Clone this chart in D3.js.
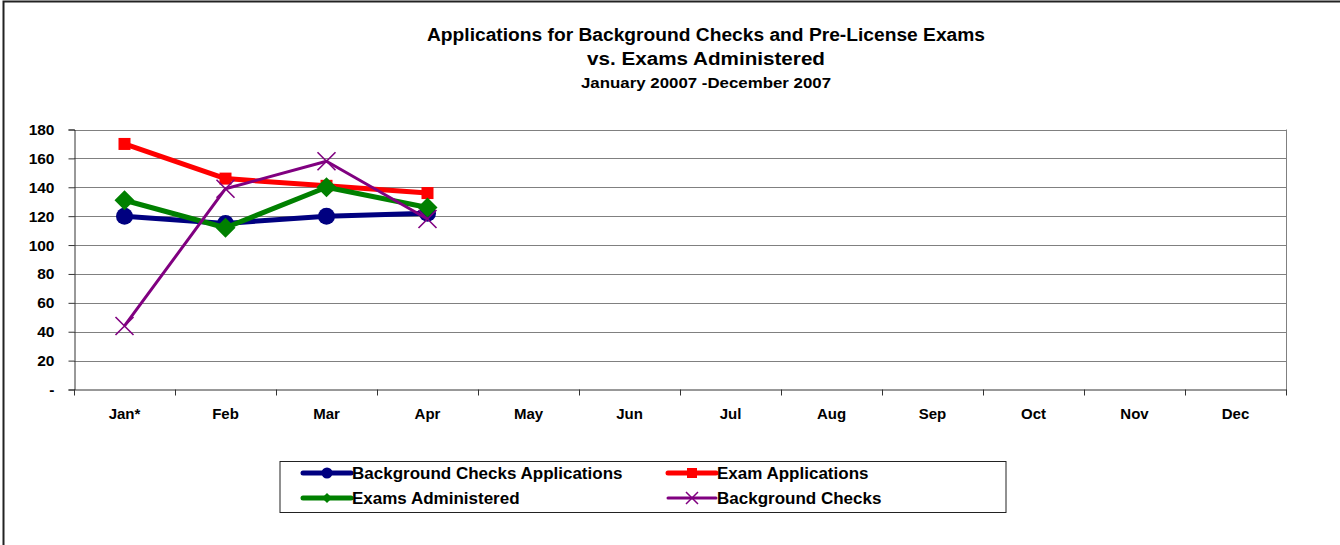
<!DOCTYPE html>
<html>
<head>
<meta charset="utf-8">
<script src="https://cdn.jsdelivr.net/npm/d3@7"></script>
<style>
  html, body { margin: 0; padding: 0; background: #fff; }
  svg { display: block; font-family: "Liberation Sans", Arial, sans-serif; }
</style>
</head>
<body>
<svg id="chart" width="1340" height="545"></svg>
<script>
// Monthly counts, January–December 2007 (only Jan–Apr reported so far)
const months = ["Jan*", "Feb", "Mar", "Apr", "May", "Jun", "Jul", "Aug", "Sep", "Oct", "Nov", "Dec"];
const bgCheckApplications = [120, 115, 120, 122];
const examApplications = [170, 146, 141, 136];
const examsAdministered = [131, 112, 140, 126];
const bgChecks = [44, 139, 158, 118];
const yTicks = [0, 20, 40, 60, 80, 100, 120, 140, 160, 180];

const series = [
  { name: "Background Checks Applications", values: bgCheckApplications, color: "#000080", width: 5, marker: "circle" },
  { name: "Exam Applications", values: examApplications, color: "#FF0000", width: 5, marker: "square" },
  { name: "Exams Administered", values: examsAdministered, color: "#008000", width: 5, marker: "diamond" },
  { name: "Background Checks", values: bgChecks, color: "#800080", width: 3, marker: "x" }
];

const svg = d3.select("#chart");
const plot = { left: 74, right: 1286, top: 129.5, bottom: 389.5 };

// Outer chart frame
svg.append("rect").attr("x", 3.5).attr("y", 1.5).attr("width", 1400).attr("height", 600)
  .attr("fill", "none").attr("stroke", "#222").attr("stroke-width", 2);

// Titles
const titleX = 706;
svg.append("text").attr("x", titleX).attr("y", 41).attr("text-anchor", "middle")
  .attr("font-size", 17.5).attr("font-weight", "bold")
  .attr("textLength", 558).attr("lengthAdjust", "spacingAndGlyphs")
  .text("Applications for Background Checks and Pre-License Exams");
svg.append("text").attr("x", titleX).attr("y", 65).attr("text-anchor", "middle")
  .attr("font-size", 17.5).attr("font-weight", "bold")
  .attr("textLength", 238).attr("lengthAdjust", "spacingAndGlyphs")
  .text("vs. Exams Administered");
svg.append("text").attr("x", titleX).attr("y", 88).attr("text-anchor", "middle")
  .attr("font-size", 14.5).attr("font-weight", "bold")
  .attr("textLength", 250).attr("lengthAdjust", "spacingAndGlyphs")
  .text("January 20007 -December 2007");

// Scales
const x = d3.scaleBand().domain(months).range([plot.left, plot.right]).padding(0);
const y = d3.scaleLinear().domain([0, 180]).range([plot.bottom, plot.top]);

// Gridlines
svg.append("g").selectAll("line").data(yTicks.filter(d => d > 0)).join("line")
  .attr("x1", plot.left).attr("x2", plot.right)
  .attr("y1", d => Math.round(y(d)) + 0.5).attr("y2", d => Math.round(y(d)) + 0.5)
  .attr("stroke", "#808080").attr("stroke-width", 1);

// Right border of plot area
svg.append("line").attr("x1", plot.right + 0.5).attr("x2", plot.right + 0.5)
  .attr("y1", plot.top).attr("y2", plot.bottom).attr("stroke", "#808080");

// Y axis
const yAxis = d3.axisLeft(y).tickValues(yTicks).tickSize(6).tickPadding(14)
  .tickFormat(d => d === 0 ? "-" : d);
const gy = svg.append("g").attr("transform", `translate(${plot.left + 0.5},0)`).call(yAxis);
gy.select(".domain").attr("stroke", "#333");
gy.selectAll(".tick line").attr("stroke", "#333");
gy.selectAll(".tick text").attr("font-size", 15.5).attr("font-weight", "bold")
  .attr("fill", "#000").attr("font-family", "Liberation Sans, Arial, sans-serif")
  .attr("x", -20);

// X axis with ticks on category boundaries
const gx = svg.append("g").attr("transform", `translate(0,${plot.bottom})`);
gx.append("line").attr("x1", plot.left).attr("x2", plot.right + 1)
  .attr("y1", 0.5).attr("y2", 0.5).attr("stroke", "#333");
const bounds = months.map(m => x(m)).concat([plot.right]);
gx.selectAll("line.b").data(bounds).join("line").attr("class", "b")
  .attr("x1", d => Math.round(d) + 0.5).attr("x2", d => Math.round(d) + 0.5)
  .attr("y1", 0).attr("y2", 6).attr("stroke", "#333");
gx.selectAll("text").data(months).join("text")
  .attr("x", d => x(d) + x.bandwidth() / 2).attr("y", 29)
  .attr("text-anchor", "middle").attr("font-size", 15).attr("font-weight", "bold")
  .text(d => d);

// Marker drawing
function drawMarker(g, type, color, cx, cy) {
  if (type === "circle") {
    g.append("circle").attr("cx", cx).attr("cy", cy).attr("r", 8.5).attr("fill", color);
  } else if (type === "square") {
    g.append("rect").attr("x", cx - 6).attr("y", cy - 6).attr("width", 12).attr("height", 12).attr("fill", color);
  } else if (type === "diamond") {
    g.append("path").attr("d", `M${cx},${cy - 10}L${cx + 10},${cy}L${cx},${cy + 10}L${cx - 10},${cy}Z`).attr("fill", color);
  } else if (type === "x") {
    const s = 9;
    g.append("path").attr("d", `M${cx - s},${cy - s}L${cx + s},${cy + s}M${cx - s},${cy + s}L${cx + s},${cy - s}`)
      .attr("stroke", color).attr("stroke-width", 1.6).attr("fill", "none");
  }
}

const line = d3.line().x((d, i) => x(months[i]) + x.bandwidth() / 2).y(d => y(d));
const linesG = svg.append("g");
series.forEach(s => {
  linesG.append("path").attr("d", line(s.values)).attr("fill", "none")
    .attr("stroke", s.color).attr("stroke-width", s.width).attr("stroke-linejoin", "round");
  s.values.forEach((v, i) => drawMarker(linesG, s.marker, s.color, x(months[i]) + x.bandwidth() / 2, y(v)));
});

// Legend
const legend = svg.append("g");
legend.append("rect").attr("x", 280).attr("y", 461.5).attr("width", 726).attr("height", 51)
  .attr("fill", "#fff").attr("stroke", "#222").attr("stroke-width", 1);
const legendPos = [
  { x: 303, y: 473 }, { x: 668, y: 473 },
  { x: 303, y: 498 }, { x: 668, y: 498 }
];
series.forEach((s, i) => {
  const p = legendPos[i];
  const lg = legend.append("g");
  lg.append("line").attr("x1", p.x).attr("x2", p.x + 48).attr("y1", p.y).attr("y2", p.y)
    .attr("stroke", s.color).attr("stroke-width", s.width).attr("stroke-linecap", "round");
  const mx = p.x + 24;
  if (s.marker === "circle") lg.append("circle").attr("cx", mx).attr("cy", p.y).attr("r", 5.5).attr("fill", s.color);
  else if (s.marker === "square") lg.append("rect").attr("x", mx - 5).attr("y", p.y - 5).attr("width", 10).attr("height", 10).attr("fill", s.color);
  else if (s.marker === "diamond") lg.append("path").attr("d", `M${mx},${p.y - 5}L${mx + 5},${p.y}L${mx},${p.y + 5}L${mx - 5},${p.y}Z`).attr("fill", s.color);
  else lg.append("path").attr("d", `M${mx - 6},${p.y - 6}L${mx + 6},${p.y + 6}M${mx - 6},${p.y + 6}L${mx + 6},${p.y - 6}`).attr("stroke", s.color).attr("stroke-width", 1.5);
  lg.append("text").attr("x", p.x + 49).attr("y", p.y + 6)
    .attr("font-size", 17).attr("font-weight", "bold").text(s.name);
});
</script>
</body>
</html>
